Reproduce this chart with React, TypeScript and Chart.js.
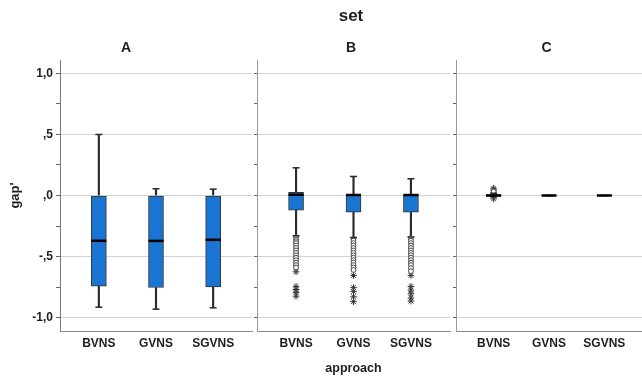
import React, { useEffect, useRef } from 'react';
import { Chart, registerables } from 'chart.js';

Chart.register(...registerables);

// ---------- data ----------
const categories = ['BVNS', 'GVNS', 'SGVNS'];
const panelTitles = ['A', 'B', 'C'];
const superTitle = 'set';
const xAxisTitle = 'approach';
const yAxisTitle = "gap'";

const majorTickValues = [1, 0.5, 0, -0.5, -1];
const majorTickLabels = ['1,0', ',5', ',0', '-,5', '-1,0'];
const minorTickValues = [0.75, 0.25, -0.25, -0.75];

// Panel A
const aQ1 = [-0.743, -0.754, -0.749];
const aMedian = [-0.371, -0.372, -0.363];
const aQ3 = [0.0, 0.0, 0.0];
const aLow = [-0.915, -0.931, -0.92];
const aHigh = [0.5, 0.055, 0.052];
const aOutliers: number[][] = [[], [], []];
const aExtremes: number[][] = [[], [], []];

// Panel B
const bQ1 = [-0.12, -0.136, -0.136];
const bMedian = [0.006, 0.004, 0.004];
const bQ3 = [0.025, 0.005, 0.005];
const bLow = [-0.33, -0.344, -0.34];
const bHigh = [0.227, 0.156, 0.137];
const bOutliers: number[][] = [
  [-0.345, -0.36, -0.375, -0.39, -0.41, -0.43, -0.45, -0.47, -0.49, -0.51, -0.53, -0.55, -0.57, -0.59],
  [-0.355, -0.37, -0.39, -0.41, -0.43, -0.45, -0.47, -0.49, -0.51, -0.53, -0.55, -0.57, -0.59, -0.61],
  [-0.35, -0.37, -0.39, -0.41, -0.43, -0.45, -0.47, -0.49, -0.51, -0.53, -0.55, -0.57, -0.595, -0.62],
];
const bExtremes: number[][] = [
  [-0.625, -0.745, -0.77, -0.795, -0.825],
  [-0.655, -0.755, -0.785, -0.83, -0.87],
  [-0.655, -0.745, -0.775, -0.805, -0.84, -0.865],
];

// Panel C
const cQ1 = [-0.006, 0.0, 0.0];
const cMedian = [0.0, 0.0, 0.0];
const cQ3 = [0.008, 0.0, 0.0];
const cLow = [-0.012, 0.0, 0.0];
const cHigh = [0.018, 0.0, 0.0];
const cOutliers: number[][] = [[0.026, 0.034], [], []];
const cExtremes: number[][] = [[0.045, 0.06, -0.028], [], []];

// ---------- styling ----------
const BOX_FILL = '#1a74d2';
const LINE = '#2b2b2b';
const TEXT = '#1e1e1e';
const FONT = "'Liberation Sans', Arial, sans-serif";
const X_MIN = -0.68;
const X_MAX = 2.68;
const Y_MIN = -1.11;
const Y_MAX = 1.11;

type PanelData = {
  q1: number[]; median: number[]; q3: number[]; low: number[]; high: number[];
  outliers: number[][]; extremes: number[][];
};

const panels: PanelData[] = [
  { q1: aQ1, median: aMedian, q3: aQ3, low: aLow, high: aHigh, outliers: aOutliers, extremes: aExtremes },
  { q1: bQ1, median: bMedian, q3: bQ3, low: bLow, high: bHigh, outliers: bOutliers, extremes: bExtremes },
  { q1: cQ1, median: cMedian, q3: cQ3, low: cLow, high: cHigh, outliers: cOutliers, extremes: cExtremes },
];

function listPoints(lists: number[][]) {
  const pts: { x: number; y: number }[] = [];
  lists.forEach((vals, i) => vals.forEach((v) => pts.push({ x: i, y: v })));
  return pts;
}

type PanelProps = {
  index: number;
  left: number;
  width: number;
  padRight: number;
  showYLabels: boolean;
  showSuper: boolean;
  showXTitle: boolean;
  yBorderColor: string;
};

function Panel({ index, left, width, padRight, showYLabels, showSuper, showXTitle, yBorderColor }: PanelProps) {
  const ref = useRef<HTMLCanvasElement>(null);
  useEffect(() => {
    if (!ref.current) return;
    const d = panels[index];
    const datasets: any[] = [
      {
        type: 'line', label: 'median',
        data: categories.map((_, i) => ({ x: i, y: d.median[i] })),
        showLine: false, pointStyle: 'line', pointRadius: 7.5, pointBorderWidth: 2.5,
        pointBorderColor: '#000', pointBackgroundColor: '#000', order: 0,
      },
      {
        type: 'line', label: 'caps',
        data: [
          ...categories.map((_, i) => ({ x: i, y: d.high[i] })),
          ...categories.map((_, i) => ({ x: i, y: d.low[i] })),
        ],
        showLine: false, pointStyle: 'line', pointRadius: 3.5, pointBorderWidth: 1.5,
        pointBorderColor: LINE, pointBackgroundColor: LINE, order: 1,
      },
      {
        type: 'line', label: 'outliers', data: listPoints(d.outliers),
        showLine: false, pointStyle: 'circle', pointRadius: 2.4, pointBorderWidth: 1,
        pointBorderColor: '#444', pointBackgroundColor: '#fff', order: 1,
      },
      {
        type: 'line', label: 'extremes', data: listPoints(d.extremes),
        showLine: false, pointStyle: 'star', pointRadius: 3.3, pointBorderWidth: 1,
        pointBorderColor: '#333', pointBackgroundColor: '#333', order: 1,
      },
      {
        type: 'bar', label: 'box',
        data: categories.map((_, i) => ({ x: i, y: [d.q1[i], d.q3[i]] })),
        backgroundColor: BOX_FILL, borderColor: '#333', borderWidth: 1, borderSkipped: false,
        barThickness: 15, grouped: false, order: 2,
      },
      {
        type: 'bar', label: 'upper whisker',
        data: categories.map((_, i) => ({ x: i, y: [d.q3[i], d.high[i]] })),
        backgroundColor: LINE, borderWidth: 0, barThickness: 1.5, grouped: false, order: 3,
      },
      {
        type: 'bar', label: 'lower whisker',
        data: categories.map((_, i) => ({ x: i, y: [d.low[i], d.q1[i]] })),
        backgroundColor: LINE, borderWidth: 0, barThickness: 1.5, grouped: false, order: 3,
      },
    ];

    const titleFont = { family: FONT, size: 14, weight: 'bold' as const, lineHeight: 1.2 };
    const chart = new Chart(ref.current, {
      type: 'bar',
      data: { datasets },
      options: {
        responsive: false,
        animation: false,
        devicePixelRatio: 1,
        events: [],
        layout: { autoPadding: false, padding: { left: 0, right: padRight, top: 0, bottom: 0 } },
        plugins: {
          legend: { display: false },
          tooltip: { enabled: false },
          title: showSuper
            ? { display: true, text: superTitle, color: TEXT, font: { family: FONT, size: 17, weight: 'bold', lineHeight: 1.2 }, padding: { top: 6.5, bottom: 0 } }
            : { display: true, text: panelTitles[index], color: TEXT, font: titleFont, padding: { top: 39.3, bottom: 3.9 } },
          subtitle: showSuper
            ? { display: true, text: panelTitles[index], color: TEXT, font: titleFont, padding: { top: 12.4, bottom: 3.9 } }
            : { display: false },
        } as any,
        scales: {
          x: {
            type: 'linear', min: X_MIN, max: X_MAX, offset: false,
            afterBuildTicks: (s: any) => { s.ticks = categories.map((_, i) => ({ value: i })); },
            afterFit: (s: any) => { s.height = 45; s.paddingLeft = 0; s.paddingRight = 0; s.paddingTop = 0; s.paddingBottom = 0; },
            ticks: {
              callback: (v: any) => categories[v as number] ?? '',
              color: TEXT, font: { family: FONT, size: 12, weight: 'bold' },
              padding: 5, maxRotation: 0, autoSkip: false,
            },
            grid: { display: false, drawTicks: false, offset: false },
            border: { display: true, color: '#8a8a8a', width: 1 },
            title: showXTitle
              ? { display: true, text: xAxisTitle, color: TEXT, font: { family: FONT, size: 12.5, weight: 'bold', lineHeight: 1.2 }, padding: { top: 0, bottom: 0 } }
              : { display: false },
          },
          y: {
            type: 'linear', min: Y_MIN, max: Y_MAX,
            afterBuildTicks: (s: any) => {
              s.ticks = [...majorTickValues, ...minorTickValues].sort((a, b) => a - b).map((v) => ({ value: v }));
            },
            afterFit: (s: any) => { s.width = showYLabels ? 60 : 5; s.paddingLeft = 0; s.paddingRight = 0; s.paddingTop = 0; s.paddingBottom = 0; },
            ticks: {
              display: showYLabels,
              callback: (v: any) => {
                const k = majorTickValues.indexOf(v as number);
                return k >= 0 ? majorTickLabels[k] : '';
              },
              color: TEXT, font: { family: FONT, size: 12, weight: 'bold' },
              padding: 3, autoSkip: false,
            },
            grid: {
              color: (ctx: any) => (ctx.tick && majorTickValues.includes(ctx.tick.value) ? '#d3d3d3' : 'rgba(0,0,0,0)'),
              tickColor: '#666',
              tickLength: showYLabels ? 4 : 3,
              drawTicks: true,
              lineWidth: 1,
            },
            border: { display: true, color: yBorderColor, width: 1 },
            title: showYLabels
              ? { display: true, text: yAxisTitle, color: TEXT, font: { family: FONT, size: 13, weight: 'bold', lineHeight: 1.2 }, padding: { top: 7.2, bottom: 0 } }
              : { display: false },
          },
        } as any,
      },
    });
    return () => chart.destroy();
  }, [index, padRight, showYLabels, showSuper, showXTitle, yBorderColor]);

  return (
    <canvas
      ref={ref}
      width={width}
      height={376}
      style={{ position: 'absolute', left, top: 0, width, height: 376 }}
    />
  );
}

export default function App() {
  return (
    <div style={{ position: 'fixed', left: 0, top: 0, width: 642, height: 376, background: '#fff', overflow: 'hidden' }}>
      <Panel index={0} left={0} width={254} padRight={2} showYLabels={true} showSuper={false} showXTitle={false} yBorderColor="#7a7a7a" />
      <Panel index={1} left={252} width={200} padRight={2} showYLabels={false} showSuper={true} showXTitle={true} yBorderColor="#9a9a9a" />
      <Panel index={2} left={451} width={191} padRight={0} showYLabels={false} showSuper={false} showXTitle={false} yBorderColor="#9a9a9a" />
    </div>
  );
}
